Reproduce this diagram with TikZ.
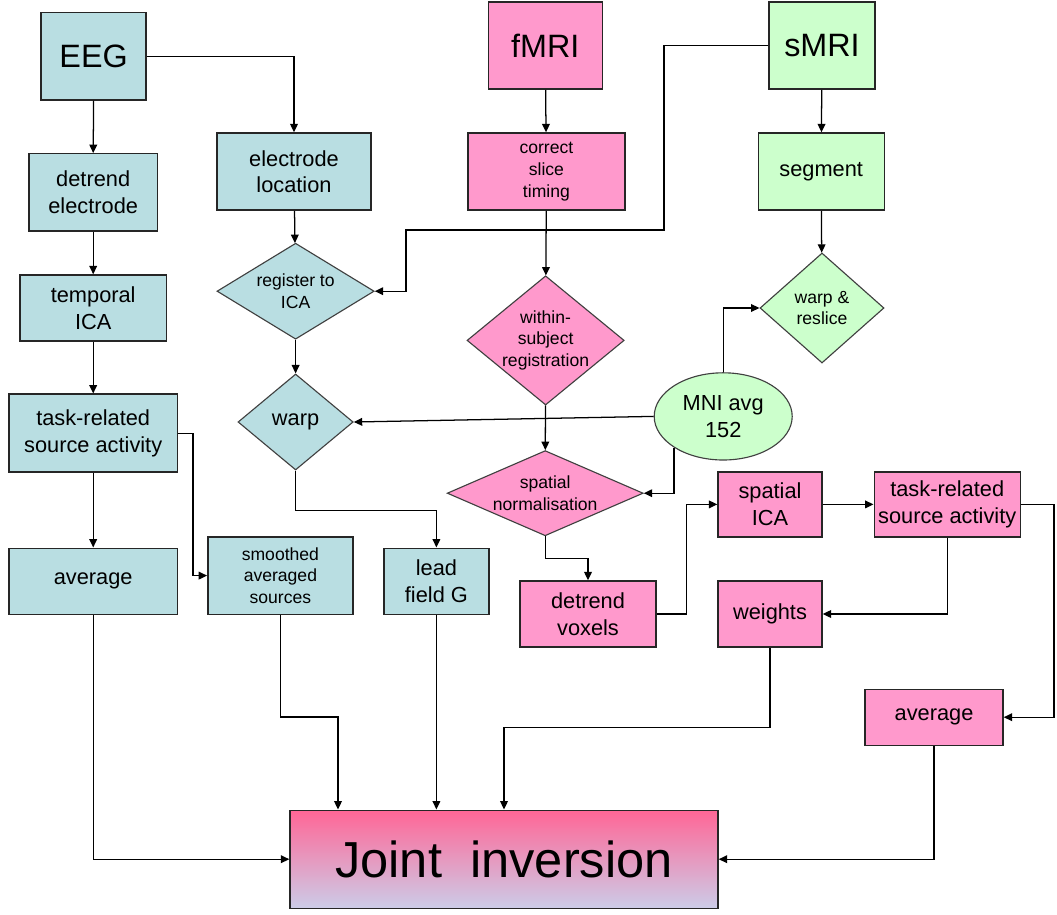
\documentclass[tikz,border=0pt]{standalone}
\usepackage{fontspec}
\setmainfont{Liberation Sans}
\usetikzlibrary{shapes.geometric,arrows.meta}

\definecolor{eegblue}{RGB}{185,222,226}
\definecolor{fmripink}{RGB}{255,153,204}
\definecolor{smrigreen}{RGB}{204,255,204}

\tikzset{
  box/.style={draw=black!85,line width=1pt,align=center,inner sep=2pt},
  dia/.style={diamond,draw=black!75,line width=0.8pt,align=center,inner sep=-2pt},
  big/.style={font=\fontsize{23}{27}\selectfont},
  mid/.style={font=\fontsize{15.5}{19}\selectfont},
  small/.style={font=\fontsize{12.5}{15.5}\selectfont},
  eeg/.style={fill=eegblue},
  fmri/.style={fill=fmripink},
  smri/.style={fill=smrigreen}
}

\begin{document}
\begin{tikzpicture}[>={Triangle[length=6pt,width=5.5pt]},line width=0.9pt]
 \useasboundingbox (0,0) rectangle (26.425,-22.875);

 % sources
 \node[box,eeg,big,minimum width=2.63cm,minimum height=2.18cm] (eeg) at (2.34,-1.41) {EEG};
 \node[box,fmri,big,minimum width=2.85cm,minimum height=2.18cm] (fmri) at (13.63,-1.14) {fMRI};
 \node[box,smri,big,minimum width=2.65cm,minimum height=2.18cm] (smri) at (20.55,-1.14) {sMRI};

 % EEG branch
 \node[box,eeg,mid,minimum width=3.2cm,minimum height=1.93cm] (detrendE) at (2.33,-4.81) {detrend\\electrode};
 \node[box,eeg,mid,minimum width=3.65cm,minimum height=1.65cm] (tempica) at (2.33,-7.7) {temporal\\ICA};
 \node[box,eeg,mid,minimum width=4.2cm,minimum height=1.95cm] (taskE) at (2.33,-10.83) {task-related\\source activity};
 \node[box,eeg,mid,minimum width=4.2cm,minimum height=1.65cm] (avgE) at (2.33,-14.53) {average};
 \node[box,eeg,small,minimum width=3.63cm,minimum height=1.93cm] (smooth) at (7.01,-14.39) {smoothed\\averaged\\sources};
 \node[box,eeg,mid,minimum width=3.85cm,minimum height=1.93cm] (elecloc) at (7.35,-4.29) {electrode\\location};
 \node[dia,eeg,small,aspect=1.64,minimum width=3.93cm,minimum height=2.4cm] (register) at (7.39,-7.28) {register to\\ICA};
 \node[dia,eeg,mid,aspect=1.2,minimum width=2.88cm,minimum height=2.4cm] (warp) at (7.39,-10.55) {warp};
 \node[box,eeg,mid,minimum width=2.63cm,minimum height=1.65cm] (lead) at (10.91,-14.53) {lead\\field G};

 % fMRI branch
 \node[box,fmri,small,minimum width=3.93cm,minimum height=1.93cm] (slice) at (13.66,-4.29) {correct\\slice\\timing};
 \node[dia,fmri,small,aspect=1.22,inner sep=-4pt,minimum width=3.93cm,minimum height=3.23cm] (within) at (13.64,-8.51) {within-\\subject\\registration};
 \node[dia,fmri,small,aspect=2.3,minimum width=4.9cm,minimum height=2.13cm] (snorm) at (13.63,-12.33) {spatial\\normalisation};
 \node[box,fmri,mid,minimum width=3.4cm,minimum height=1.65cm] (detrendV) at (14.7,-15.35) {detrend\\voxels};
 \node[box,fmri,mid,minimum width=2.6cm,minimum height=1.63cm] (sica) at (19.25,-12.61) {spatial\\ICA};
 \node[box,fmri,mid,minimum width=3.65cm,minimum height=1.63cm] (taskF) at (23.68,-12.61) {task-related\\source activity};
 \node[box,fmri,mid,minimum width=2.6cm,minimum height=1.65cm] (weights) at (19.25,-15.35) {weights};
 \node[box,fmri,mid,minimum width=3.45cm,minimum height=1.4cm] (avgF) at (23.35,-17.93) {average};

 % sMRI branch
 \node[box,smri,mid,minimum width=3.15cm,minimum height=1.93cm] (segment) at (20.53,-4.29) {segment};
 \node[dia,smri,small,aspect=1.13,minimum width=3.1cm,minimum height=2.75cm] (reslice) at (20.55,-7.7) {warp \&\\reslice};
 \node[ellipse,draw=black!75,line width=0.8pt,smri,mid,align=center,inner sep=0pt,minimum width=3.45cm,minimum height=2.18cm] (mni) at (18.08,-10.41) {MNI avg\\152};

 % target
 \node[box,top color={rgb,255:red,255;green,102;blue,150},bottom color={rgb,255:red,204;green,204;blue,232},
   font=\fontsize{36}{40}\selectfont,minimum width=10.7cm,minimum height=2.45cm] (joint) at (12.6,-21.48) {Joint\ \ inversion};

 % EEG arrows
 \draw[->] (eeg.east) -| (elecloc.north);
 \draw[->] (eeg.south) -- (detrendE.north);
 \draw[->] (detrendE) -- (tempica);
 \draw[->] (tempica) -- (taskE);
 \draw[->] (taskE) -- (avgE);
 \draw[->] (taskE.east) -- ++(0.38,0) |- (smooth.west);
 \draw[->] (elecloc) -- (register);
 \draw[->] (register) -- (warp);
 \draw[->] (warp.south) -- ++(0,-1) -| (lead.north);

 % fMRI arrows
 \draw[->] (fmri) -- (slice);
 \draw[->] (slice) -- (within);
 \draw[->] (within) -- (snorm);
 \draw[->] (snorm.south) -- ++(0,-0.55) -| (detrendV.north);
 \draw[->] (detrendV.east) -- ++(0.75,0) |- (sica.west);
 \draw[->] (sica) -- (taskF);
 \draw[->] (taskF.south) |- (weights.east);
 \draw[->] (taskF.east) -- ++(0.83,0) |- (avgF.east);

 % sMRI arrows
 \draw[->] (smri) -- (segment);
 \draw[->] (segment) -- (reslice);
 \draw[->] (smri.west) -| (16.6,-5.75) -| (10.15,-7.28) -- (register.east);
 \draw[->] (mni.west) -- (warp.east);
 \draw[->] (mni.north) |- (reslice.west);
 \draw[->] (mni.south west) |- (snorm.east);

 % into joint inversion
 \draw[->] (avgE.south) |- (joint.west);
 \draw[->] (smooth.south) -- ++(0,-2.55) -| ([xshift=-4.15cm]joint.north);
 \draw[->] (lead.south) -- (lead.south |- joint.north);
 \draw[->] (weights.south) -- ++(0,-2) -| (joint.north);
 \draw[->] (avgF.south) |- (joint.east);
\end{tikzpicture}
\end{document}
